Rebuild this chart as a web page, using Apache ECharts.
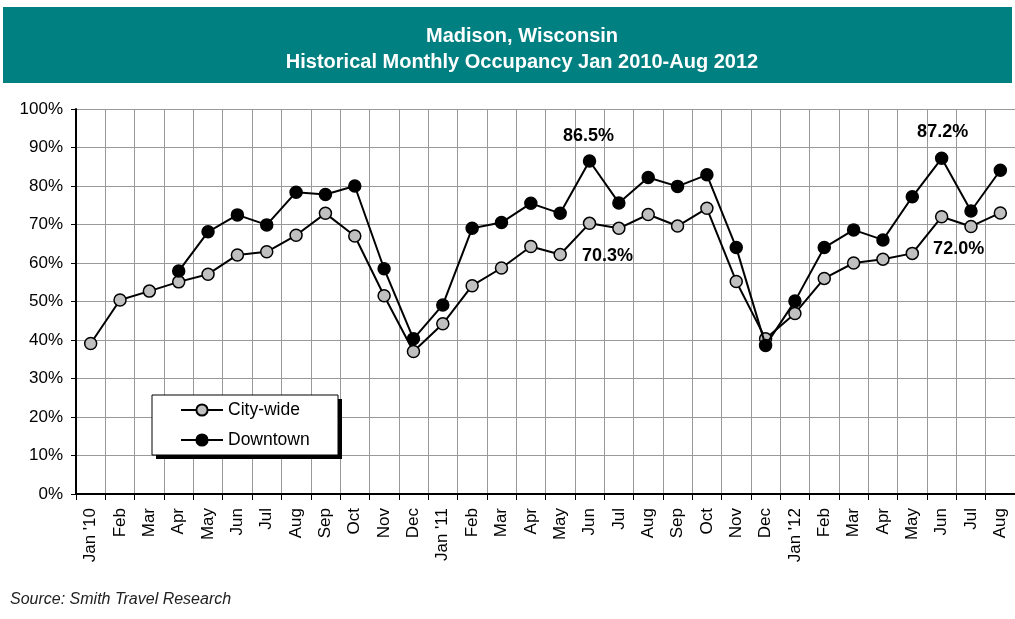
<!DOCTYPE html>
<html>
<head>
<meta charset="utf-8">
<script src="https://cdn.jsdelivr.net/npm/echarts@6/dist/echarts.min.js"></script>
<style>
  html, body { margin: 0; padding: 0; background: #fff; }
  #chart { width: 1015px; height: 619px; }
</style>
</head>
<body>
<div id="chart"></div>
<script>
var months = ["Jan '10", 'Feb', 'Mar', 'Apr', 'May', 'Jun', 'Jul', 'Aug', 'Sep', 'Oct', 'Nov', 'Dec',
  "Jan '11", 'Feb', 'Mar', 'Apr', 'May', 'Jun', 'Jul', 'Aug', 'Sep', 'Oct', 'Nov', 'Dec',
  "Jan '12", 'Feb', 'Mar', 'Apr', 'May', 'Jun', 'Jul', 'Aug']
var cityWide = [39.1, 50.4, 52.7, 55.1, 57.1, 62.1, 62.9, 67.2, 72.9, 67.0, 51.5, 37.0,
  44.2, 54.1, 58.7, 64.3, 62.2, 70.3, 69.0, 72.6, 69.6, 74.2, 55.2, 40.3,
  46.9, 56.0, 60.0, 61.0, 62.5, 72.0, 69.5, 73.0]
var downtown = [null, null, null, 57.9, 68.1, 72.5, 69.9, 78.4, 77.8, 80.0, 58.5, 40.3,
  49.1, 69.0, 70.5, 75.5, 72.9, 86.5, 75.6, 82.2, 79.9, 82.9, 64.0, 38.6,
  50.1, 64.0, 68.6, 66.0, 77.2, 87.2, 73.5, 84.1]
var yTicks = [0, 100, 10]  // min, max, step

var font = 'Liberation Sans, Arial, sans-serif'

// which points carry a value label, and where it sits
var cityLabels = { 17: [18, 33], 29: [17, 32] }
var downLabels = { 17: [-1, -25], 29: [1, -26] }

function withLabels(arr, labels) {
  return arr.map(function (v, i) {
    if (!labels[i]) return v
    return {
      value: v,
      label: {
        show: true,
        position: 'inside',
        offset: labels[i],
        formatter: v.toFixed(1) + '%',
        color: '#000',
        fontFamily: font,
        fontWeight: 'bold',
        fontSize: 18
      }
    }
  })
}

var chart = echarts.init(document.getElementById('chart'))
chart.setOption({
  animation: false,
  title: {
    text: 'Madison, Wisconsin\nHistorical Monthly Occupancy Jan 2010-Aug 2012',
    left: 517,
    textAlign: 'center',
    top: 18,
    textStyle: { color: '#fff', fontFamily: font, fontWeight: 'bold', fontSize: 20, lineHeight: 26 }
  },
  graphic: [
    { type: 'rect', z: -10, shape: { x: 3, y: 7, width: 1009, height: 76 }, style: { fill: '#008080' } },
    // legend box with its hard shadow
    { type: 'rect', z: 5, shape: { x: 156, y: 399, width: 186, height: 60 }, style: { fill: '#000' } },
    { type: 'rect', z: 6, shape: { x: 152, y: 395, width: 186, height: 60 },
      style: { fill: '#fff', stroke: '#000', lineWidth: 1 } },
    { type: 'text', left: 10, top: 592,
      style: { text: 'Source: Smith Travel Research', fill: '#222', font: 'italic 16px ' + font } }
  ],
  legend: {
    orient: 'vertical',
    left: 180,
    top: 401,
    padding: 0,
    itemGap: 12,
    itemWidth: 42,
    itemHeight: 14,
    z: 10,
    textStyle: { color: '#000', fontFamily: font, fontSize: 17.5, lineHeight: 18 },
    data: ['City-wide', 'Downtown']
  },
  grid: { left: 76, right: -4, top: 109, bottom: 125, containLabel: false },
  xAxis: {
    type: 'category',
    data: months,
    boundaryGap: true,
    axisLine: { lineStyle: { color: '#000', width: 2 } },
    axisTick: { show: true, length: 6, interval: 0, lineStyle: { color: '#000' } },
    axisLabel: { interval: 0, rotate: 90, margin: 14, color: '#000', fontFamily: font, fontSize: 17 },
    splitLine: { show: true, interval: 0, lineStyle: { color: '#999', width: 1 } }
  },
  yAxis: {
    type: 'value',
    min: yTicks[0],
    max: yTicks[1],
    interval: yTicks[2],
    axisLine: { show: true, lineStyle: { color: '#000', width: 2 } },
    axisTick: { show: true, length: 5, lineStyle: { color: '#000' } },
    axisLabel: { formatter: '{value}%', margin: 13, color: '#000', fontFamily: font, fontSize: 17 },
    splitLine: { show: true, lineStyle: { color: '#999', width: 1 } }
  },
  series: [
    {
      name: 'City-wide',
      type: 'line',
      data: withLabels(cityWide, cityLabels),
      symbol: 'circle',
      symbolSize: 12,
      showAllSymbol: true,
      lineStyle: { color: '#000', width: 2 },
      itemStyle: { color: '#c0c0c0', borderColor: '#000', borderWidth: 1.5 },
      z: 3
    },
    {
      name: 'Downtown',
      type: 'line',
      data: withLabels(downtown, downLabels),
      symbol: 'circle',
      symbolSize: 12,
      showAllSymbol: true,
      connectNulls: false,
      lineStyle: { color: '#000', width: 2 },
      itemStyle: { color: '#000', borderColor: '#000', borderWidth: 1.5 },
      z: 4
    }
  ]
})
</script>
</body>
</html>
